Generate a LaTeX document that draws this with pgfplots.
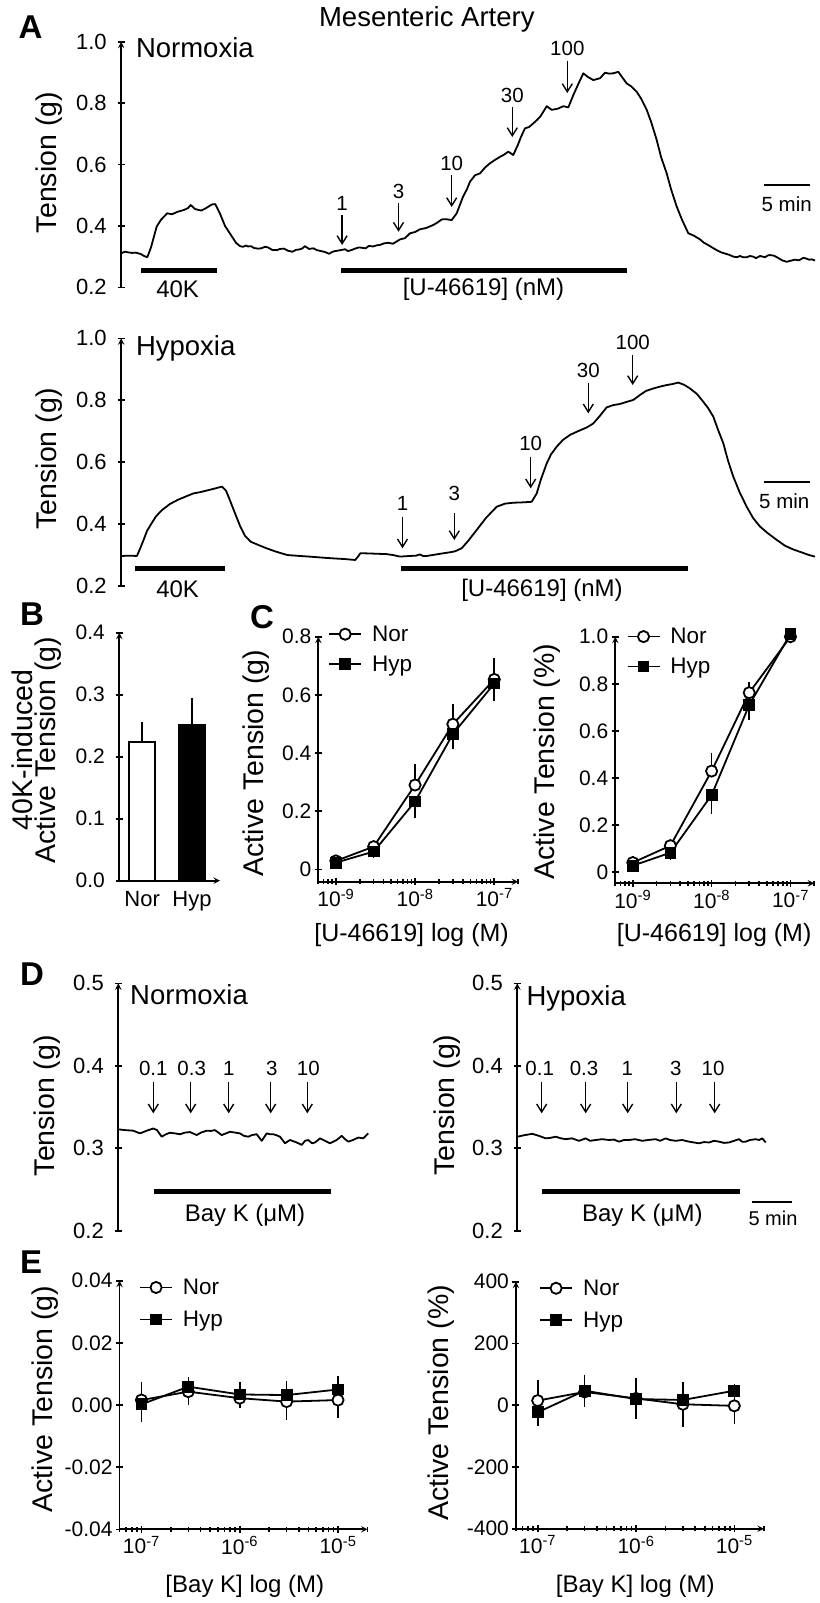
\documentclass[border=0pt]{standalone}
\usepackage{pgfplots}
\pgfplotsset{compat=1.18}
\usepackage{fontspec}
\setmainfont{Liberation Sans}
\usetikzlibrary{arrows.meta}
\newcommand{\fs}[1]{\fontsize{#1}{#1}\selectfont}
\pgfplotsset{
  base/.style={scale only axis, clip=false, anchor=south west,
    scaled y ticks=false, scaled x ticks=false,
    axis line style={-, line width=1.8pt},
    tick style={line width=1.6pt, black},
    tick align=outside, major tick length=7pt, minor tick length=4.5pt,
    every tick label/.append style={font=\fs{21}},
    label style={font=\fs{28.5}},
  },
  trace/.style={base, axis x line=none, axis y line=left,
    every tick label/.append style={font=\fs{22}}, yticklabel style={xshift=-7.5pt}},
  tr/.style={black, line width=1.8pt, no marks, line join=round},
  nor/.style={black, line width=1.8pt, mark=*, mark size=5.6pt, mark options={fill=white, line width=1.8pt}},
  hyp/.style={black, line width=1.8pt, mark=square*, mark size=5pt, mark options={fill=black, line width=1.8pt}},
  eb/.style={error bars/y dir=#1, error bars/y explicit, error bars/error bar style={line width=1.6pt}, error bars/error mark options={mark size=5pt, line width=1.6pt}},
  ebw/.style={error bars/y dir=#1, error bars/y explicit, error bars/error bar style={line width=1.6pt}, error bars/error mark options={mark size=6.5pt, line width=1.6pt}},
  leg/.style={legend style={draw=none, fill=none, inner sep=0pt, outer sep=0pt, font=\fs{22.5}, row sep=9pt},
    legend cell align=left,
    legend image code/.code={\draw[mark repeat=2,mark phase=2] plot coordinates {(0pt,0pt) (16pt,0pt) (32pt,0pt)}; \path (40pt,0pt);}},
}
\begin{document}
\begin{tikzpicture}
\path[use as bounding box] (0pt,0pt) rectangle (819pt,-1603pt);

% ---------------- A Normoxia
\begin{axis}[trace, at={(121.2pt,-287.3pt)}, width=697.8pt, height=245.6pt,
  xmin=121.2, xmax=819, ymin=0.2, ymax=1.0,
  ytick={0.2,0.4,0.6,0.8,1.0}, yticklabels={0.2,0.4,0.6,0.8,1.0},
  ylabel={Tension (g)}, ylabel style={at={(axis description cs:-0.1035,0.508)}, anchor=center}]
\addplot[tr] coordinates {(121.2,0.311) (125,0.316) (128,0.314) (132,0.312) (135.8,0.313) (141,0.308) (144,0.302) (147.3,0.298) (151,0.33) (156.7,0.398) (161,0.42) (164,0.43) (167.1,0.441) (172,0.438) (177.6,0.446) (184,0.452) (188,0.458) (190.7,0.468) (195,0.455) (201.1,0.450) (205,0.456) (208,0.462) (212,0.47) (215.2,0.471) (220,0.44) (225,0.40) (229.8,0.376) (236,0.345) (240,0.334) (242.9,0.332) (246,0.336) (248,0.333) (251,0.334) (254,0.328) (258,0.326) (261.2,0.327) (265,0.332) (268,0.33) (272,0.322) (276.8,0.321) (280,0.325) (284,0.326) (288,0.319) (292.5,0.316) (296,0.322) (299,0.323) (302,0.326) (305,0.334) (309,0.325) (313.4,0.327) (317,0.321) (321,0.318) (325,0.315) (329.1,0.309) (332,0.315) (335,0.318) (339,0.32) (342.1,0.322) (345,0.324) (348,0.318) (352,0.322) (355,0.326) (359,0.33) (365.6,0.327) (369,0.335) (373,0.333) (377,0.337) (380,0.338) (384,0.343) (388,0.345) (393,0.342) (397,0.35) (400,0.356) (405,0.36) (410,0.376) (415,0.38) (420,0.389) (426,0.393) (433.3,0.403) (437,0.41) (441.7,0.421) (446,0.422) (451.7,0.419) (456.7,0.441) (463,0.495) (467,0.52) (470,0.544) (475,0.565) (480,0.571) (485,0.59) (490,0.604) (495,0.615) (500,0.625) (504,0.632) (508.3,0.642) (513.3,0.631) (518,0.665) (521,0.69) (525,0.718) (529,0.722) (533.3,0.734) (537,0.745) (540,0.755) (543,0.77) (546.7,0.79) (551.7,0.778) (558,0.782) (563.3,0.79) (568.3,0.786) (573.3,0.826) (578,0.86) (583.3,0.897) (588,0.885) (593.3,0.875) (600,0.881) (605,0.899) (609,0.896) (613.3,0.897) (618.3,0.902) (622,0.885) (626.7,0.864) (631,0.855) (636.7,0.837) (641,0.815) (646.7,0.778) (651,0.74) (656.7,0.68) (661,0.625) (666.7,0.571) (671,0.52) (676.7,0.463) (682,0.42) (688.3,0.376) (694,0.368) (700,0.356) (704,0.345) (708,0.338) (712,0.33) (716.7,0.321) (721,0.314) (725,0.31) (729,0.306) (733.3,0.3) (737,0.298) (740,0.302) (743,0.298) (746.7,0.298) (750,0.302) (753,0.3) (756,0.295) (760,0.302) (765,0.298) (768,0.304) (770,0.305) (774,0.303) (778,0.296) (782,0.288) (786.7,0.283) (790,0.286) (795,0.29) (799,0.288) (803.3,0.296) (806,0.294) (809,0.29) (812,0.291) (815,0.287)};
\end{axis}

% ---------------- A Hypoxia
\begin{axis}[trace, at={(121.2pt,-586pt)}, width=697.8pt, height=247.7pt,
  xmin=121.2, xmax=819, ymin=0.2, ymax=1.0,
  ytick={0.2,0.4,0.6,0.8,1.0}, yticklabels={0.2,0.4,0.6,0.8,1.0},
  ylabel={Tension (g)}, ylabel style={at={(axis description cs:-0.1035,0.513)}, anchor=center}]
\addplot[tr] coordinates {(121.2,0.297) (130,0.298) (136.9,0.297) (140,0.32) (143.6,0.349) (147,0.378) (151.5,0.402) (156,0.425) (161.9,0.445) (170,0.465) (177.6,0.478) (185,0.488) (193.3,0.499) (200,0.503) (208.9,0.51) (215,0.515) (222,0.521) (226,0.508) (229.8,0.478) (235,0.435) (240.3,0.392) (245,0.362) (250.7,0.343) (258,0.333) (266.4,0.322) (275,0.312) (287.3,0.3) (300,0.297) (313.4,0.294) (325,0.291) (334.3,0.289) (345,0.287) (355.2,0.284) (358,0.295) (360.4,0.306) (370,0.305) (386.5,0.303) (393,0.3) (400,0.295) (410,0.297) (416,0.298) (420,0.302) (423,0.297) (426.7,0.297) (440,0.304) (450,0.309) (455,0.312) (461.7,0.322) (468,0.345) (476.7,0.381) (486,0.42) (496.7,0.456) (505,0.466) (513.3,0.469) (522,0.47) (531.7,0.472) (536.7,0.499) (541,0.545) (546.7,0.596) (551,0.625) (556.7,0.65) (563,0.672) (570,0.688) (578,0.7) (586.7,0.712) (593.3,0.725) (600,0.75) (606.7,0.777) (613,0.784) (620,0.788) (627,0.795) (633.3,0.801) (640,0.817) (646,0.83) (653.3,0.838) (660,0.844) (666.7,0.849) (672,0.852) (678.3,0.857) (684,0.85) (690,0.838) (697,0.82) (703.3,0.795) (708,0.775) (713.3,0.747) (718,0.705) (723.3,0.661) (728,0.605) (733.3,0.553) (740,0.5) (746.7,0.456) (753,0.42) (760,0.392) (768,0.37) (776.7,0.349) (785,0.33) (793.3,0.318) (803,0.307) (809,0.3) (815,0.295)};
\end{axis}

% ---------------- B
\begin{axis}[base, axis lines=left, at={(119.3pt,-880.7pt)}, width=100.7pt, height=248pt,
  xmin=119.3, xmax=220, ymin=0, ymax=0.4,
  ytick={0,0.1,0.2,0.3,0.4}, yticklabels={0.0,0.1,0.2,0.3,0.4},
  yticklabel style={xshift=-7.5pt},
  xtick={142.2,192}, xticklabels={Nor,Hyp}, xtick style={draw=none},
  xticklabel style={font=\fs{22}},
  ybar, bar width=25.7,
  ylabel={40K-induced\\Active Tension (g)},
  ylabel style={align=center, font=\fontsize{28.5}{23}\selectfont, at={(axis description cs:-0.822,0.527)}, anchor=center}]
\addplot[bar shift=0pt, draw=black, fill=white, line width=1.8pt, ebw=plus] coordinates {(142.2,0.224) +- (0,0.022)};
\addplot[bar shift=0pt, draw=black, fill=black, line width=1.8pt, ebw=plus] coordinates {(192,0.251) +- (0,0.034)};
\end{axis}

% ---------------- C left
\begin{axis}[base, leg, axis lines=left, xmode=log, at={(318.3pt,-881.7pt)}, width=199.8pt, height=245pt,
  xmin=6e-10, xmax=2e-7, ymin=-0.0426, ymax=0.8,
  xtick={1e-9,1e-8,1e-7}, xticklabels={10\textsuperscript{-9},10\textsuperscript{-8},10\textsuperscript{-7}},
  minor xtick={6e-10,7e-10,8e-10,9e-10,2e-9,3e-9,4e-9,5e-9,6e-9,7e-9,8e-9,9e-9,2e-8,3e-8,4e-8,5e-8,6e-8,7e-8,8e-8,9e-8,2e-7},
  ytick={0,0.2,0.4,0.6,0.8}, yticklabels={0,0.2,0.4,0.6,0.8},
  xlabel={[U-46619] log (M)}, xlabel style={font=\fs{25}, at={(axis description cs:0.467,-0.2176)}, anchor=center},
  ylabel={Active Tension (g)}, ylabel style={at={(axis description cs:-0.31,0.484)}, anchor=center},
  legend style={at={(axis description cs:0.05,1.053)}, anchor=north west}]
\addplot[nor, eb=plus] coordinates {(1e-9,0.029) +- (0,0.004) (3e-9,0.078) +- (0,0.006) (1e-8,0.29) +- (0,0.054) (3e-8,0.499) +- (0,0.052) (1e-7,0.653) +- (0,0.055)};
\addplot[hyp, eb=minus] coordinates {(1e-9,0.023) +- (0,0.004) (3e-9,0.061) +- (0,0.006) (1e-8,0.233) +- (0,0.04) (3e-8,0.465) +- (0,0.034) (1e-7,0.639) +- (0,0.043)};
\legend{Nor,Hyp}
\end{axis}

% ---------------- C right
\begin{axis}[base, leg, axis lines=left, xmode=log, at={(615.3pt,-883.3pt)}, width=198.9pt, height=246.6pt,
  xmin=6e-10, xmax=2e-7, ymin=-0.048, ymax=1.0,
  xtick={1e-9,1e-8,1e-7}, xticklabels={10\textsuperscript{-9},10\textsuperscript{-8},10\textsuperscript{-7}},
  minor xtick={6e-10,7e-10,8e-10,9e-10,2e-9,3e-9,4e-9,5e-9,6e-9,7e-9,8e-9,9e-9,2e-8,3e-8,4e-8,5e-8,6e-8,7e-8,8e-8,9e-8,2e-7},
  ytick={0,0.2,0.4,0.6,0.8,1.0}, yticklabels={0,0.2,0.4,0.6,0.8,1.0},
  xlabel={[U-46619] log (M)}, xlabel style={font=\fs{25}, at={(axis description cs:0.497,-0.2097)}, anchor=center},
  ylabel={Active Tension (\%)}, ylabel style={at={(axis description cs:-0.341,0.493)}, anchor=center},
  legend style={at={(axis description cs:0.057,1.043)}, anchor=north west}]
\addplot[nor, eb=plus] coordinates {(1e-9,0.04) +- (0,0.005) (3e-9,0.112) +- (0,0.008) (1e-8,0.429) +- (0,0.057) (3e-8,0.762) +- (0,0.026) (1e-7,1.0) +- (0,0.003)};
\addplot[hyp, eb=minus] coordinates {(1e-9,0.027) +- (0,0.005) (3e-9,0.082) +- (0,0.008) (1e-8,0.327) +- (0,0.058) (3e-8,0.71) +- (0,0.043) (1e-7,1.012) +- (0,0.003)};
\legend{Nor,Hyp}
\end{axis}

% ---------------- D left
\begin{axis}[trace, at={(118.3pt,-1230.7pt)}, width=281.7pt, height=247.4pt,
  xmin=118.3, xmax=400, ymin=0.2, ymax=0.5,
  ytick={0.2,0.3,0.4,0.5}, yticklabels={0.2,0.3,0.4,0.5},
  ylabel={Tension (g)}, ylabel style={at={(axis description cs:-0.254,0.505)}, anchor=center}]
\addplot[tr] coordinates {(118.3,0.3229) (125,0.322) (133.3,0.3213) (140,0.318) (146.7,0.3213) (153.3,0.324) (157,0.322) (161.7,0.314) (166,0.317) (170,0.3188) (175,0.318) (180,0.317) (185,0.319) (190,0.3196) (196.7,0.316) (201,0.319) (206.7,0.3213) (211,0.321) (215,0.322) (221.7,0.316) (226,0.318) (230,0.320) (235,0.319) (240,0.318) (244,0.315) (248.3,0.314) (252,0.316) (256.7,0.317) (261.7,0.309) (266.7,0.318) (270,0.317) (273.3,0.317) (276,0.316) (280,0.314) (285,0.306) (290,0.310) (296.7,0.307) (301.7,0.304) (305,0.309) (308.3,0.310) (312,0.306) (315,0.307) (320,0.312) (325,0.309) (330,0.306) (336.7,0.310) (341.7,0.315) (345,0.311) (348.3,0.308) (353,0.310) (358.3,0.313) (363.3,0.312) (368.3,0.318)};
\end{axis}

% ---------------- D right
\begin{axis}[trace, at={(517.3pt,-1230.7pt)}, width=282.7pt, height=247.4pt,
  xmin=517.3, xmax=800, ymin=0.2, ymax=0.5,
  ytick={0.2,0.3,0.4,0.5}, yticklabels={0.2,0.3,0.4,0.5},
  ylabel={Tension (g)}, ylabel style={at={(axis description cs:-0.2476,0.508)}, anchor=center}]
\addplot[tr] coordinates {(517.3,0.314) (525,0.316) (532.3,0.3175) (539,0.315) (545.7,0.312) (550,0.3125) (555.7,0.314) (561,0.312) (565.7,0.311) (572,0.312) (579,0.309) (585.7,0.312) (590,0.309) (595.7,0.310) (602,0.311) (609,0.310) (614,0.3105) (619,0.308) (624,0.310) (629,0.310) (635,0.311) (642.3,0.309) (648,0.310) (655.7,0.311) (660,0.309) (665.7,0.312) (670,0.310) (675.7,0.309) (682,0.310) (689,0.308) (694,0.307) (699,0.306) (704,0.3075) (709,0.307) (714,0.309) (719,0.308) (724,0.3065) (729,0.307) (734,0.309) (739,0.311) (742,0.308) (745.7,0.308) (750,0.310) (755.7,0.311) (759,0.310) (762.3,0.312) (765.7,0.307)};
\end{axis}

% ---------------- E left
\begin{axis}[base, leg, axis lines=left, xmode=log, at={(119.6pt,-1529.3pt)}, width=248pt, height=248.6pt,
  xmin=6e-8, xmax=2e-5, ymin=-0.04, ymax=0.04,
  xtick={1e-7,1e-6,1e-5}, xticklabels={10\textsuperscript{-7},10\textsuperscript{-6},10\textsuperscript{-5}},
  minor xtick={6e-8,7e-8,8e-8,9e-8,2e-7,3e-7,4e-7,5e-7,6e-7,7e-7,8e-7,9e-7,2e-6,3e-6,4e-6,5e-6,6e-6,7e-6,8e-6,9e-6,2e-5},
  ytick={-0.04,-0.02,0,0.02,0.04}, yticklabels={-0.04,-0.02,0.00,0.02,0.04},
  xlabel={[Bay K] log (M)}, xlabel style={font=\fs{24}, at={(axis description cs:0.505,-0.231)}, anchor=center},
  ylabel={Active Tension (g)}, ylabel style={at={(axis description cs:-0.302,0.524)}, anchor=center},
  legend style={at={(axis description cs:0.079,1.015)}, anchor=north west, row sep=11pt}]
\addplot[nor, eb=both] coordinates {(1e-7,0.0016) +- (0,0.0043) (3e-7,0.0043) +- (0,0.0027) (1e-6,0.0022) +- (0,0.0017) (3e-6,0.0011) +- (0,0.0043) (1e-5,0.0016) +- (0,0.0041)};
\addplot[hyp, eb=both] coordinates {(1e-7,0.0002) +- (0,0.0039) (3e-7,0.0059) +- (0,0.0016) (1e-6,0.0034) +- (0,0.0025) (3e-6,0.0032) +- (0,0.003) (1e-5,0.005) +- (0,0.0028)};
\legend{Nor,Hyp}
\end{axis}

% ---------------- E right
\begin{axis}[base, leg, axis lines=left, xmode=log, at={(515.9pt,-1528.7pt)}, width=248pt, height=247pt,
  xmin=6e-8, xmax=2e-5, ymin=-400, ymax=400,
  xtick={1e-7,1e-6,1e-5}, xticklabels={10\textsuperscript{-7},10\textsuperscript{-6},10\textsuperscript{-5}},
  minor xtick={6e-8,7e-8,8e-8,9e-8,2e-7,3e-7,4e-7,5e-7,6e-7,7e-7,8e-7,9e-7,2e-6,3e-6,4e-6,5e-6,6e-6,7e-6,8e-6,9e-6,2e-5},
  ytick={-400,-200,0,200,400}, yticklabels={-400,-200,0,200,400},
  xlabel={[Bay K] log (M)}, xlabel style={font=\fs{24}, at={(axis description cs:0.481,-0.235)}, anchor=center},
  ylabel={Active Tension (\%)}, ylabel style={at={(axis description cs:-0.2997,0.509)}, anchor=center},
  legend style={at={(axis description cs:0.094,1.016)}, anchor=north west, row sep=11pt}]
\addplot[nor, eb=both] coordinates {(1e-7,15) +- (0,50) (3e-7,43) +- (0,30) (1e-6,22) +- (0,50) (3e-6,3) +- (0,56) (1e-5,-2) +- (0,42)};
\addplot[hyp, eb=both] coordinates {(1e-7,-23) +- (0,27) (3e-7,47) +- (0,36) (1e-6,20) +- (0,10) (3e-6,17) +- (0,25) (1e-5,47) +- (0,5)};
\legend{Nor,Hyp}
\end{axis}

% ---------------- annotations (pixel frame, y downwards)
\begin{scope}[x=1pt,y=-1pt, arr/.style={line width=1.5pt, -{Straight Barb[length=8pt,width=10pt,line width=1.4pt]}},
  bar/.style={line width=4.5pt}, sb/.style={line width=2pt}, num/.style={font=\fs{20.5}, anchor=base, inner sep=0pt},
  blab/.style={font=\fs{24}, anchor=base, inner sep=0pt}, plab/.style={font=\bfseries\fs{33}, anchor=base west, inner sep=0pt},
  cond/.style={font=\fs{27.5}, anchor=base west, inner sep=0pt}]
\node[font=\fs{27.5}, anchor=base, inner sep=0pt] at (426.8,26.7) {Mesenteric Artery};
\node[plab] at (18.3,38.3) {A};
\node[plab] at (20,625) {B};
\node[plab] at (250,628) {C};
\node[plab] at (20,985) {D};
\node[plab] at (20,1273) {E};
\node[cond] at (135.8,58) {Normoxia};
\node[cond] at (135.8,355) {Hypoxia};
\node[cond] at (130,1004) {Normoxia};
\node[cond] at (526.3,1005) {Hypoxia};
% A normoxia arrows
\foreach \x/\t/\b/\l in {342.1/215/245/1, 398.5/203.3/231.7/3, 451.7/175/207/10, 512.3/107.3/137/30, 567.3/60.7/93/100}{
  \draw[arr] (\x,\t) -- (\x,\b);
  \node[num] at (\x,\t-5) {\l};
}
\draw[bar] (141,270.7) -- (216.8,270.7);
\draw[bar] (341.1,270.7) -- (626.7,270.7);
\node[blab] at (177.6,297) {40K};
\node[blab] at (483.5,295) {[U-46619] (nM)};
\draw[sb] (764,185) -- (810,185);
\node[font=\fs{20.5}, anchor=base, inner sep=0pt] at (786.7,211.7) {5 min};
% A hypoxia arrows
\foreach \x/\t/\b/\l/\lb in {402.5/516.7/548.3/1/510.5, 454.3/513.3/540/3/500, 530.7/456.7/488.3/10/450.5, 588.3/383.3/413.3/30/377, 632.7/355/385/100/349}{
  \draw[arr] (\x,\t) -- (\x,\b);
  \node[num] at (\x,\lb) {\l};
}
\draw[bar] (134.8,568.3) -- (224.6,568.3);
\draw[bar] (401.2,568.3) -- (688.3,568.3);
\node[blab] at (177.6,597.5) {40K};
\node[blab] at (542,596) {[U-46619] (nM)};
\draw[sb] (764.3,481.7) -- (810,481.7);
\node[font=\fs{20.5}, anchor=base, inner sep=0pt] at (784.3,508.3) {5 min};
% D arrows
\foreach \x/\lx/\l in {153.3/153.3/0.1, 190.7/191.7/0.3, 228.7/228.7/1, 270.7/271.7/3, 307.3/308.3/10, 541.7/539.7/0.1, 585.7/584/0.3, 627.7/627.3/1, 676.3/675.7/3, 714.7/713/10}{
  \draw[arr] (\x,1081.7) -- (\x,1113.3);
  \node[num] at (\lx,1075) {\l};
}
\draw[bar] (154,1191.7) -- (330.7,1191.7);
\draw[bar] (542.3,1191.7) -- (739.7,1191.7);
\node[blab] at (245,1221.7) {Bay K (μM)};
\node[blab] at (642.3,1221.7) {Bay K (μM)};
\draw[sb] (752.3,1201.7) -- (791.7,1201.7);
\node[font=\fs{20}, anchor=base, inner sep=0pt] at (773,1225) {5 min};
\end{scope}
\end{tikzpicture}
\end{document}
